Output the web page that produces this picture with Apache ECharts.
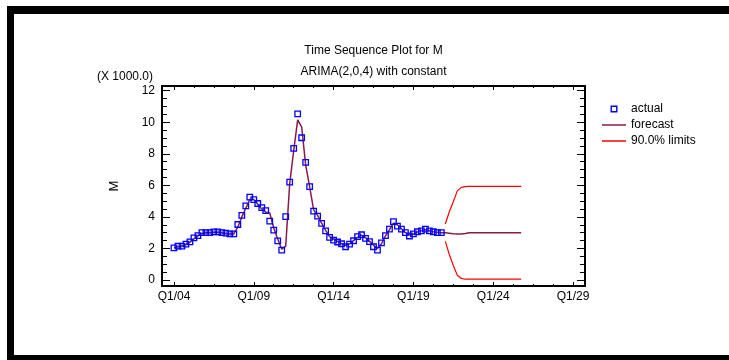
<!DOCTYPE html>
<html><head><meta charset="utf-8">
<script src="https://cdn.jsdelivr.net/npm/echarts@6/dist/echarts.min.js"></script>
<style>html,body{margin:0;padding:0;background:#fff}#c{width:729px;height:360px}</style>
</head><body><div id="c"></div>
<script>
// Quarterly series, first observation Q1/04; values in thousands
const START_YEAR = 2004;
const actual = [2.04, 2.15, 2.15, 2.27, 2.42, 2.67, 2.82, 3.01, 3.0, 3.0, 3.05, 3.05, 3.0, 2.97, 2.93, 2.93,
  3.52, 4.1, 4.7, 5.26, 5.1, 4.85, 4.59, 4.4, 3.73, 3.16, 2.48, 1.9, 4.02, 6.21, 8.34, 10.53,
  9.02, 7.46, 5.92, 4.37, 4.05, 3.59, 3.12, 2.7, 2.53, 2.41, 2.3, 2.11, 2.28, 2.49, 2.75, 2.87,
  2.64, 2.43, 2.11, 1.9, 2.36, 2.81, 3.23, 3.7, 3.42, 3.23, 3.0, 2.79, 2.92, 3.06, 3.12, 3.23,
  3.12, 3.06, 3.0, 3.0];
const fitted = [2.05, 2.1, 2.15, 2.25, 2.4, 2.6, 2.8, 2.95, 3.0, 3.0, 3.02, 3.02, 3.0, 2.95, 2.92, 2.92,
  3.35, 4.0, 4.55, 5.1, 5.1, 4.8, 4.5, 4.3, 4.25, 3.3, 2.6, 1.95, 2.15, 6.1, 8.2, 10.15,
  9.7, 7.3, 5.9, 4.45, 4.1, 3.6, 3.15, 2.75, 2.6, 2.45, 2.3, 2.2, 2.3, 2.5, 2.7, 2.85,
  2.7, 2.45, 2.2, 2.0, 2.3, 2.8, 3.2, 3.6, 3.5, 3.25, 3.0, 2.85, 2.9, 3.05, 3.12, 3.18,
  3.12, 3.06, 3.02, 3.0];
const forecast = [3.0, 2.97, 2.93, 2.92, 2.92, 2.95, 3.0, 3.0, 3.0, 3.0, 3.0, 3.0, 3.0, 3.0, 3.0, 3.0, 3.0, 3.0, 3.0, 3.0];
const upper90 = [3.55, 4.33, 4.96, 5.65, 5.87, 5.92, 5.94, 5.94, 5.94, 5.94, 5.94, 5.94, 5.94, 5.94, 5.94, 5.94, 5.94, 5.94, 5.94, 5.94];
const lower90 = [2.45, 1.62, 0.92, 0.3, 0.1, 0.05, 0.05, 0.05, 0.05, 0.05, 0.05, 0.05, 0.05, 0.05, 0.05, 0.05, 0.05, 0.05, 0.05, 0.05];
const xTickYears = [2004, 2009, 2014, 2019, 2024, 2029];
const yTickValues = [0, 2, 4, 6, 8, 10, 12];

const FONT = '"Liberation Sans", Arial, Helvetica, sans-serif';
const t = i => START_YEAR + i / 4;
const actualPts = actual.map((v, i) => [t(i), v]);
const linePts = fitted.concat(forecast).map((v, i) => [t(i), v]);
const upperPts = upper90.map((v, i) => [t(actual.length + i), v]);
const lowerPts = lower90.map((v, i) => [t(actual.length + i), v]);

const X_MIN = 2003.25, X_MAX = 2029.75, Y_MIN = -0.38, Y_MAX = 12.3;
const xMinor = [];
for (let y = 2004; y <= 2029.001; y += 1.25) if (xTickYears.indexOf(y) < 0) xMinor.push(y);
const yMinor = [];
for (let v = 0.5; v < 12; v += 0.5) if (yTickValues.indexOf(v) < 0) yMinor.push(v);

function xAx(pos, ticks, len, showLabel) {
  return {
    type: 'value', position: pos, min: X_MIN, max: X_MAX,
    axisLine: { show: true, onZero: false, lineStyle: { color: '#000', width: 2 } },
    axisTick: { show: true, inside: true, length: len, customValues: ticks, lineStyle: { color: '#000', width: 1 } },
    axisLabel: showLabel ? {
      show: true, customValues: xTickYears, margin: 5, color: '#000', fontSize: 12, fontFamily: FONT,
      formatter: v => 'Q1/' + String(Math.round(v)).slice(2)
    } : { show: false },
    splitLine: { show: false }
  };
}
function yAx(pos, ticks, len, showLabel) {
  return {
    type: 'value', position: pos, min: Y_MIN, max: Y_MAX,
    axisLine: { show: true, onZero: false, lineStyle: { color: '#000', width: 2 } },
    axisTick: { show: true, inside: true, length: len, customValues: ticks, lineStyle: { color: '#000', width: 1 } },
    axisLabel: showLabel ? {
      show: true, customValues: yTickValues, margin: 7, color: '#000', fontSize: 12, fontFamily: FONT
    } : { show: false },
    splitLine: { show: false },
    name: showLabel ? 'M' : '',
    nameLocation: 'middle', nameGap: 41, nameRotate: 90,
    nameTextStyle: { color: '#000', fontSize: 13, fontFamily: FONT }
  };
}

const LINE_ICON = 'path://M0,0H24V1.5H0Z';
const chart = echarts.init(document.getElementById('c'), null, { renderer: 'canvas' });
chart.setOption({
  animation: false,
  backgroundColor: '#fff',
  title: [
    { text: 'Time Sequence Plot for M', left: 373.5, top: 45, textAlign: 'center', padding: 0,
      textStyle: { fontSize: 12, fontWeight: 'normal', color: '#000', fontFamily: FONT } },
    { text: 'ARIMA(2,0,4) with constant', left: 373.5, top: 66, textAlign: 'center', padding: 0,
      textStyle: { fontSize: 12, fontWeight: 'normal', color: '#000', fontFamily: FONT } },
    { text: '(X 1000.0)', left: 97, top: 71, padding: 0,
      textStyle: { fontSize: 12, fontWeight: 'normal', color: '#000', fontFamily: FONT } }
  ],
  grid: { left: 162, right: 144, top: 86, bottom: 74, containLabel: false, outerBoundsMode: 'none' },
  xAxis: [
    xAx('bottom', xTickYears, 4, true),
    xAx('bottom', xMinor, 2, false),
    xAx('top', xTickYears, 4, false),
    xAx('top', xMinor, 2, false)
  ],
  yAxis: [
    yAx('left', yTickValues, 8, true),
    yAx('left', yMinor, 5, false),
    yAx('right', yTickValues, 8, false),
    yAx('right', yMinor, 5, false)
  ],
  legend: {
    orient: 'vertical', left: 602, top: 103, itemWidth: 24, itemHeight: 7, itemGap: 4, padding: 0,
    textStyle: { fontSize: 12, color: '#000', fontFamily: FONT },
    data: [
      { name: 'actual', icon: 'path://M0,0H10V10H0Z M2,2V8H8V2Z', itemStyle: { color: '#0000ff', borderWidth: 0 } },
      { name: 'forecast', icon: LINE_ICON, itemStyle: { color: '#8b1a4b', borderWidth: 0 } },
      { name: '90.0% limits', icon: LINE_ICON, itemStyle: { color: '#ff0000', borderWidth: 0 } }
    ]
  },
  graphic: [
    { type: 'rect', shape: { x: 7, y: 6, width: 722, height: 8 }, style: { fill: '#000' }, z: 100 },
    { type: 'rect', shape: { x: 7, y: 6, width: 7, height: 354 }, style: { fill: '#000' }, z: 100 },
    { type: 'rect', shape: { x: 7, y: 355, width: 722, height: 5 }, style: { fill: '#000' }, z: 100 }
  ],
  series: [
    { name: 'forecast', type: 'line', data: linePts, symbol: 'none', showSymbol: false,
      lineStyle: { color: '#8b1a4b', width: 1.5 }, itemStyle: { color: '#8b1a4b' }, z: 2 },
    { name: '90.0% limits', type: 'line', data: upperPts, symbol: 'none', showSymbol: false,
      lineStyle: { color: '#ff0000', width: 1.2 }, itemStyle: { color: '#ff0000' }, z: 2 },
    { name: '90.0% limits', type: 'line', data: lowerPts, symbol: 'none', showSymbol: false,
      lineStyle: { color: '#ff0000', width: 1.2 }, itemStyle: { color: '#ff0000' }, z: 2 },
    { name: 'actual', type: 'scatter', data: actualPts, symbol: 'rect', symbolSize: 5.5,
      itemStyle: { color: 'rgba(255,255,255,0)', borderColor: '#0000ff', borderWidth: 1.3, opacity: 1 }, z: 3 }
  ]
});
</script></body></html>
